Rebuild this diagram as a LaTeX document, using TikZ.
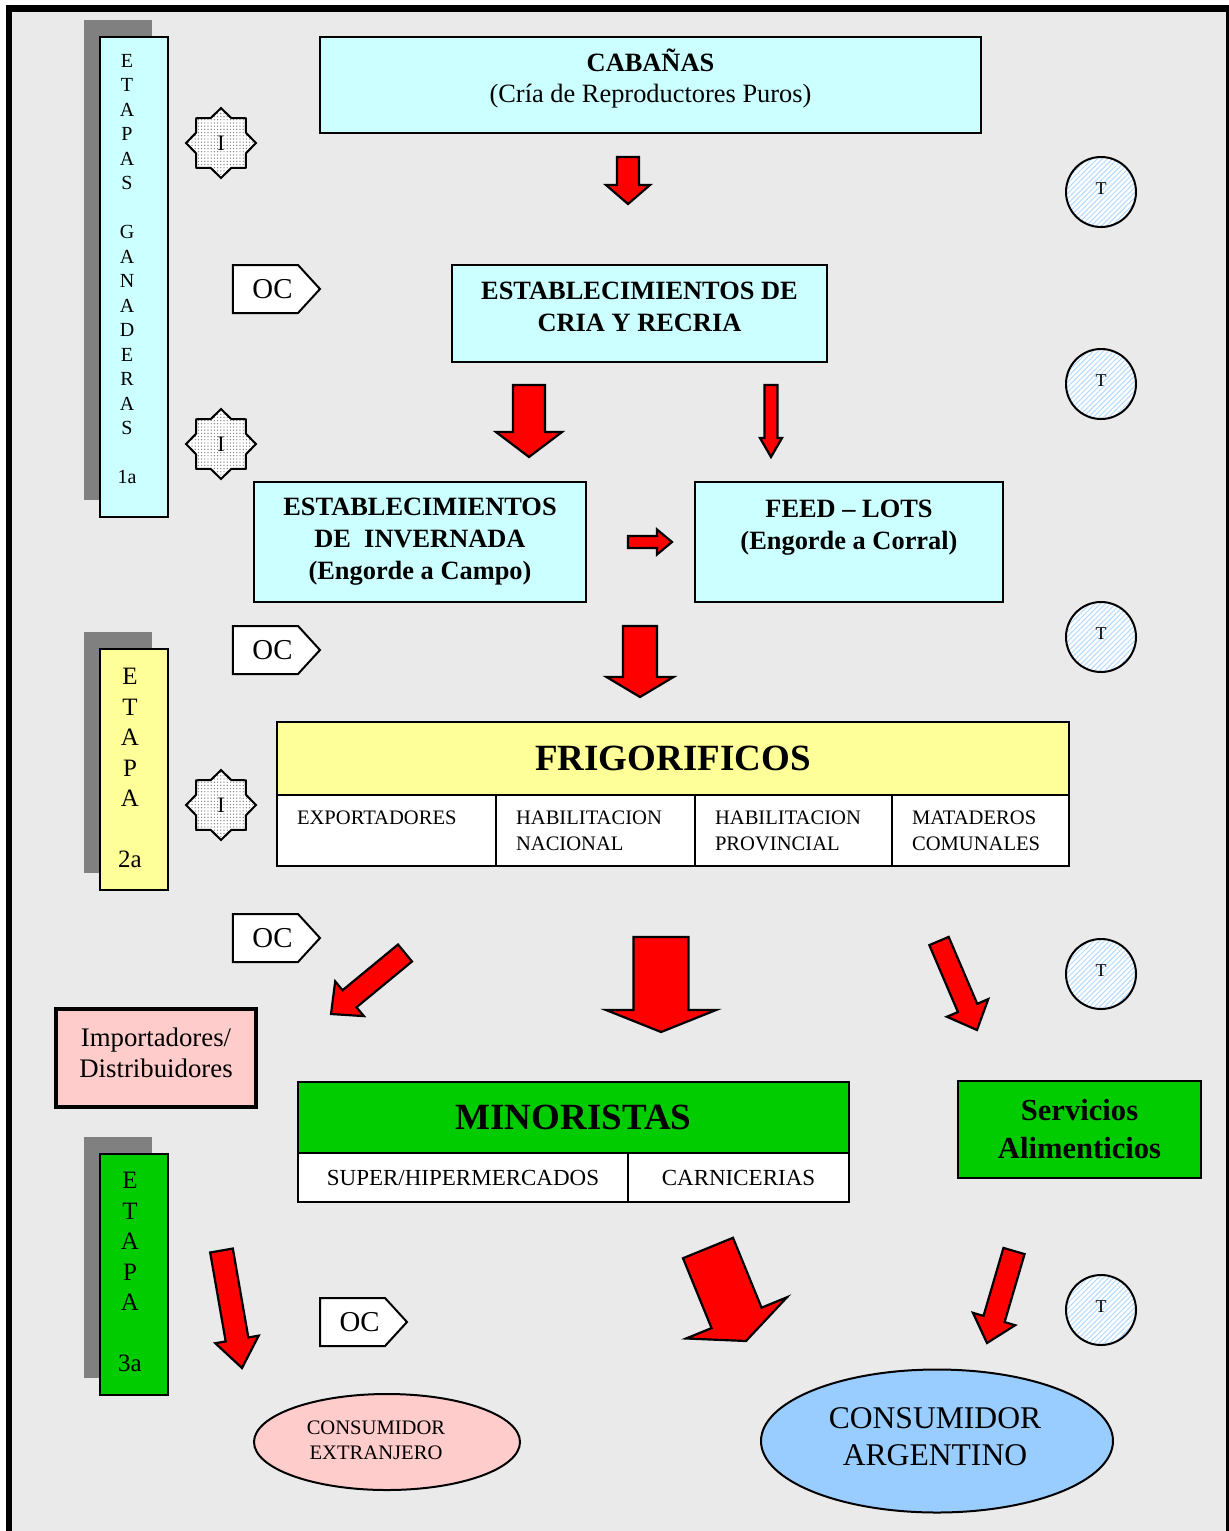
\documentclass[tikz,border=0pt]{standalone}
\usepackage{fontspec}
\setmainfont{Liberation Serif}
\usetikzlibrary{positioning,calc,shapes.geometric,shapes.symbols,shadows,patterns.meta}

\definecolor{bggray}{HTML}{EAEAEA}
\definecolor{boxcyan}{HTML}{CCFFFF}
\definecolor{boxyellow}{HTML}{FFFF99}
\definecolor{boxgreen}{HTML}{00CC00}
\definecolor{boxpink}{HTML}{FFCCCC}
\definecolor{boxblue}{HTML}{99CCFF}
\definecolor{hatchblue}{HTML}{B5DAFF}
\definecolor{shadowgray}{HTML}{808080}

\tikzset{
  box/.style={draw, line width=1pt, inner sep=0pt, align=center},
  cell/.style={box, fill=white, align=left, font=\fontsize{10.3}{13}\selectfont},
  stagebar/.style={box, minimum width=34pt, drop shadow={shadow xshift=-8pt, shadow yshift=8.5pt, fill=shadowgray, opacity=1}},
  istar/.style={star, star points=8, star point ratio=1.3, minimum size=35pt, inner sep=0pt,
    draw, line width=1pt, preaction={fill=white}, pattern={Dots[distance=1.6pt, radius=0.35pt]},
    pattern color=gray, font=\fontsize{11}{13}\selectfont},
  octag/.style={signal, signal to=east, signal pointer angle=95, draw, line width=1pt, fill=white,
    minimum width=43.5pt, minimum height=24pt, inner sep=0pt, font=\fontsize{14.4}{16}\selectfont},
  tcircle/.style={circle, draw, line width=1pt, minimum size=35pt, inner sep=0pt,
    preaction={fill=white}, pattern={Lines[angle=45, distance=1.8pt, line width=0.5pt]},
    pattern color=hatchblue, font=\fontsize{9}{10}\selectfont, text depth=3.5pt},
  bigarrow/.style={draw, line width=1.1pt, fill=red, line join=miter},
  bold13/.style={font=\fontsize{13.2}{16}\bfseries\selectfont, align=center},
}

% tail, tip, shaft width, head width, head length (in px)
\newcommand{\blockarrow}[5]{%
  \coordinate (head) at ($(#2)!#5*0.5pt!(#1)$);
  \draw[bigarrow] ($(#1)!#3*0.25pt!90:(#2)$) -- ($(head)!#3*0.25pt!90:(#2)$)
    -- ($(head)!#4*0.25pt!90:(#2)$) -- (#2) -- ($(head)!#4*0.25pt!-90:(#2)$)
    -- ($(head)!#3*0.25pt!-90:(#2)$) -- ($(#1)!#3*0.25pt!-90:(#2)$) -- cycle;
}

\begin{document}
\begin{tikzpicture}[x=0.5pt, y=-0.5pt]
\useasboundingbox (0,0) rectangle (1229,1531);
\fill[white] (0,0) rectangle (1229,1531);
\fill[bggray] (9,8.5) rectangle (1229,1540);
\draw[line width=3.3pt] (9,1540) -- (9,8.5) -- (1229,8.5) -- (1229,1540);

% stages
\node[stagebar, fill=boxcyan, minimum height=240pt] (etapa1) at (134,277) {};
\node[align=center, inner sep=0pt, font=\fontsize{10}{12.25}\selectfont] (etapa1text) at (127,269)
  {E\\T\\A\\P\\A\\S\\[12.25pt]G\\A\\N\\A\\D\\E\\R\\A\\S\\[12.25pt]1a};
\node[stagebar, fill=boxyellow, minimum height=120.5pt] (etapa2) at (134,769.5) {};
\node[align=center, inner sep=0pt, font=\fontsize{12.5}{15.25}\selectfont] (etapa2text) at (130,768)
  {E\\T\\A\\P\\A\\[15.25pt]2a};
\node[stagebar, fill=boxgreen, minimum height=120.5pt] (etapa3) at (134,1274.5) {};
\node[align=center, inner sep=0pt, font=\fontsize{12.5}{15.25}\selectfont] (etapa3text) at (130,1272)
  {E\\T\\A\\P\\A\\[15.25pt]3a};

% I, OC, T marks
\node[istar] (i1) at (221,143) {I};
\node[istar] (i2) at (221,444) {I};
\node[istar] (i3) at (221,805) {I};
\node[octag] (oc1) at (265.5,289) {\hspace*{7pt}OC};
\node[octag] (oc2) at (265.5,650) {\hspace*{7pt}OC};
\node[octag] (oc3) at (265.5,938) {\hspace*{7pt}OC};
\node[octag] (oc4) at (352.5,1322) {\hspace*{7pt}OC};
\foreach \y [count=\i] in {192,384,637,974,1310}
  \node[tcircle] (t\i) at (1101,\y) {T};

% boxes
\node[box, fill=boxcyan, minimum width=330.5pt, minimum height=48pt] (cabanas) at (650.5,85) {};
\node[align=center, inner sep=0pt, below=6pt of cabanas.north, font=\fontsize{13.2}{15.5}\selectfont]
  (cabanastext) {\textbf{CABAÑAS}\\(Cría de Reproductores Puros)};
\node[box, fill=boxcyan, minimum width=187.5pt, minimum height=48.5pt] (cria) at (639.5,313.5) {};
\node[bold13, inner sep=0pt, below=9pt of cria.north] (criatext) {ESTABLECIMIENTOS DE\\CRIA Y RECRIA};
\node[box, bold13, fill=boxcyan, minimum width=166pt, minimum height=60pt] (invernada)
  at (420,542) {ESTABLECIMIENTOS\\DE~~INVERNADA\\(Engorde a Campo)};
\node[box, fill=boxcyan, minimum width=154pt, minimum height=60pt] (feedlots) at (849,542) {};
\node[bold13, below=6pt of feedlots.north] (feedtext) {FEED – LOTS\\(Engorde a Corral)};

\node[box, fill=boxyellow, minimum width=396pt, minimum height=36.5pt,
  font=\fontsize{18.5}{20}\bfseries\selectfont] (frigorificos) at (673,758.5) {FRIGORIFICOS};
\node[cell, minimum width=109.5pt, minimum height=35.5pt, text width=89.5pt] (exportadores)
  at (386.5,830.5) {EXPORTADORES\\\phantom{X}};
\node[cell, minimum width=99.5pt, minimum height=35.5pt, text width=79.5pt] (nacional)
  at (595.5,830.5) {HABILITACION\\NACIONAL};
\node[cell, minimum width=98.5pt, minimum height=35.5pt, text width=78.5pt] (provincial)
  at (793.5,830.5) {HABILITACION\\PROVINCIAL};
\node[cell, minimum width=88.5pt, minimum height=35.5pt, text width=68.5pt] (mataderos)
  at (980.5,830.5) {MATADEROS\\COMUNALES};

\node[box, fill=boxpink, line width=2.3pt, minimum width=100pt, minimum height=49pt] (importadores)
  at (156,1058) {};
\node[align=center, inner sep=0pt, below=10.5pt of importadores.north, font=\fontsize{13.4}{15.5}\selectfont]
  (importadorestext) {Importadores/\\Distribuidores};

\node[box, fill=boxgreen, minimum width=275.5pt, minimum height=35.5pt,
  font=\fontsize{18.5}{20}\bfseries\selectfont] (minoristas) at (573.5,1117.5) {MINORISTAS};
\node[box, fill=white, minimum width=165pt, minimum height=24.5pt,
  font=\fontsize{11.5}{13}\selectfont] (super) at (463,1177.5) {SUPER/HIPERMERCADOS};
\node[box, fill=white, minimum width=110.5pt, minimum height=24.5pt,
  font=\fontsize{11.5}{13}\selectfont] (carnicerias) at (738.5,1177.5) {CARNICERIAS};
\node[box, fill=boxgreen, minimum width=121.5pt, minimum height=48.5pt,
  font=\fontsize{15.3}{19}\bfseries\selectfont] (servicios) at (1079.5,1129.5)
  {Servicios\\Alimenticios};

\node[ellipse, draw, line width=1pt, fill=boxpink, minimum width=133pt, minimum height=48pt]
  (extranjero) at (387,1442) {};
\node[align=center, inner sep=0pt, font=\fontsize{10.3}{12.5}\selectfont] (extranjerotext)
  at (376,1440) {CONSUMIDOR\\EXTRANJERO};
\node[ellipse, draw, line width=1pt, fill=boxblue, minimum width=176pt, minimum height=71.5pt]
  (argentino) at (937,1441) {};
\node[align=center, inner sep=0pt, font=\fontsize{15.8}{18.5}\selectfont] (argentinotext)
  at (935,1437) {CONSUMIDOR\\ARGENTINO};

% flow arrows
\blockarrow{628,157}{628,204}{22}{44}{19}
\blockarrow{529,385}{529,457}{32}{66}{25}
\blockarrow{771,385}{771,457}{13}{22}{19}
\blockarrow{628,542}{672,542}{12}{25}{15}
\blockarrow{640,626}{640,697}{34}{67}{20}
\blockarrow{405,953}{331,1014}{22}{45}{24}
\blockarrow{661,937}{661,1032}{55}{110}{22}
\blockarrow{939,941}{977,1030}{21}{45}{24}
\blockarrow{221.5,1250.5}{242,1368}{23}{44}{29}
\blockarrow{708,1248}{746,1341}{54}{109}{25}
\blockarrow{1014,1251}{987,1343}{22}{44}{25}
\end{tikzpicture}
\end{document}
